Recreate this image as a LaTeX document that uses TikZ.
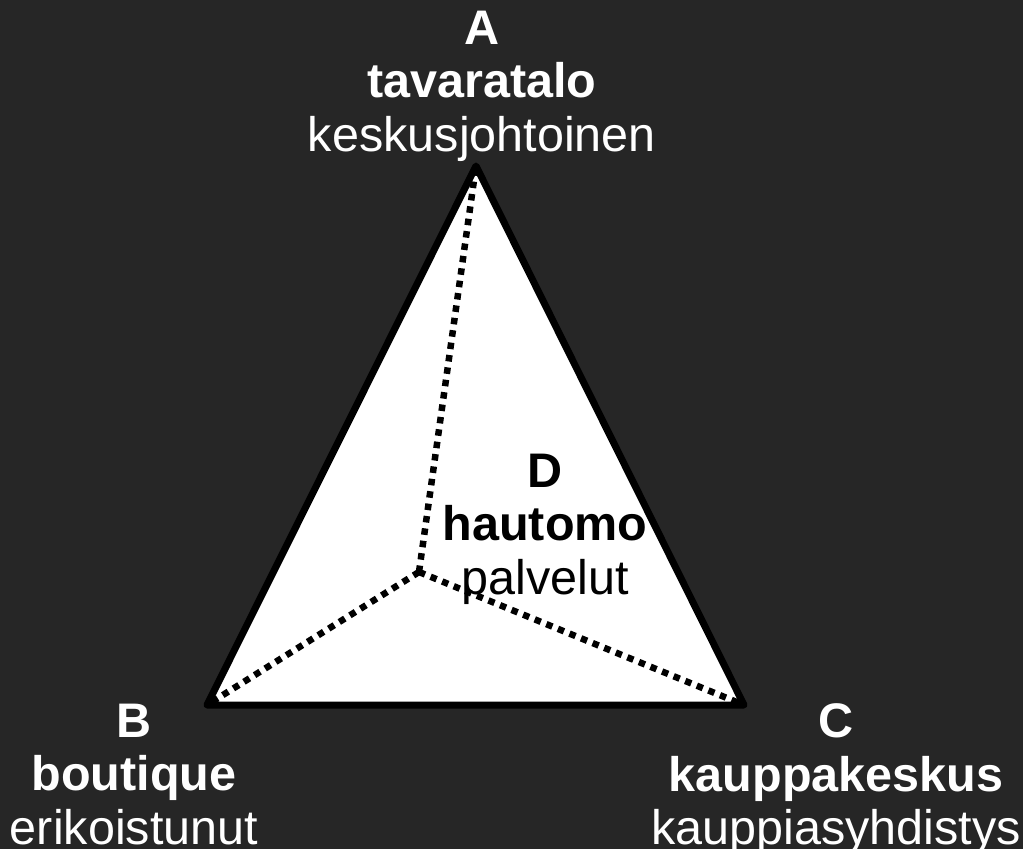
\documentclass[tikz,border=0pt]{standalone}
\usepackage{fontspec}
\setmainfont{Liberation Sans}
\definecolor{bgdark}{HTML}{262626}
\begin{document}
\begin{tikzpicture}[x=0.01cm, y=-0.01cm,
corner/.style = {align=center, anchor=north, inner sep=0pt, text=white,
  font=\fontsize{13.8}{15.2}\selectfont},
inner/.style = {corner, text=black},
edge/.style = {line width=0.07cm, line join=round},
spoke/.style = {line width=0.065cm, dash pattern=on 0.065cm off 0.06cm}]
    \fill[bgdark] (0,0) rectangle (1023,849);

    \coordinate (A) at (476,166);
    \coordinate (B) at (207,705);
    \coordinate (C) at (744,705);
    \coordinate (D) at (419,572);

    \filldraw[edge, fill=white] (A) -- (B) -- (C) -- cycle;

    \draw[spoke] (D) -- (A);
    \draw[spoke] (D) -- (B);
    \draw[spoke] (D) -- (C);

    \node[corner] (labA) at (482,10) {\textbf{A}\\\textbf{tavaratalo}\\keskusjohtoinen};
    \node[corner] (labB) at (134,703) {\textbf{B}\\\textbf{boutique}\\erikoistunut};
    \node[corner] (labC) at (836,703) {\textbf{C}\\\textbf{kauppakeskus}\\kauppiasyhdistys};
    \node[inner] (labD) at (545,453) {\textbf{D}\\\textbf{hautomo}\\palvelut};
\end{tikzpicture}
\end{document}
